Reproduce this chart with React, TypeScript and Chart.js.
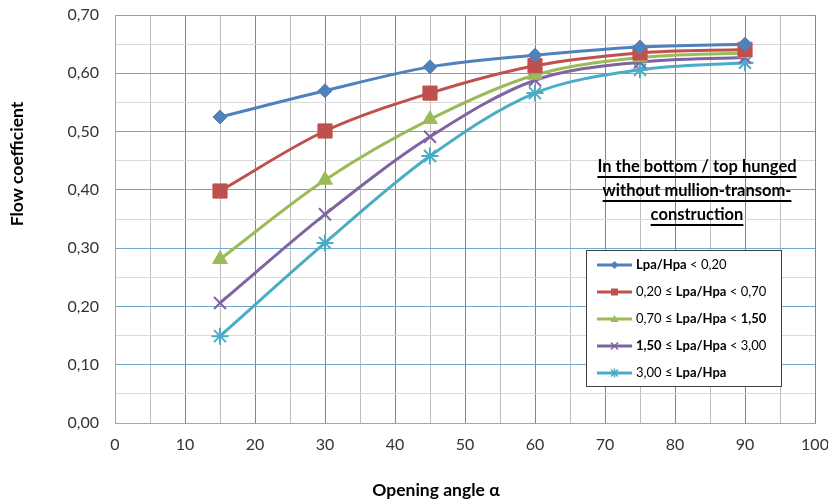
import React, { useEffect, useRef } from 'react';
import { Chart, registerables } from 'chart.js';

Chart.register(...registerables);

const angles = [15, 30, 45, 60, 75, 90];
const seriesA = [0.525, 0.57, 0.611, 0.631, 0.645, 0.65];
const seriesB = [0.398, 0.501, 0.566, 0.613, 0.635, 0.641];
const seriesC = [0.281, 0.417, 0.521, 0.597, 0.627, 0.635];
const seriesD = [0.206, 0.358, 0.491, 0.588, 0.619, 0.627];
const seriesE = [0.149, 0.309, 0.458, 0.566, 0.606, 0.618];

const seriesNames = [
  'Lpa/Hpa < 0,20',
  '0,20 ≤ Lpa/Hpa < 0,70',
  '0,70 ≤ Lpa/Hpa < 1,50',
  '1,50 ≤ Lpa/Hpa < 3,00',
  '3,00 ≤ Lpa/Hpa',
];
// legend text segments: [text, bold]
const legendRow1: [string, boolean][] = [['Lpa/Hpa', true], [' < 0,20', false]];
const legendRow2: [string, boolean][] = [['0,20 ≤ ', false], ['Lpa/Hpa', true], [' < 0,70', false]];
const legendRow3: [string, boolean][] = [['0,70 ≤ ', false], ['Lpa/Hpa', true], [' < ', false], ['1,50', true]];
const legendRow4: [string, boolean][] = [['1,50', true], [' ≤ ', false], ['Lpa/Hpa', true], [' < 3,00', false]];
const legendRow5: [string, boolean][] = [['3,00 ≤ ', false], ['Lpa/Hpa', true]];
const legendRows = [legendRow1, legendRow2, legendRow3, legendRow4, legendRow5];

const annotationLines = ['In the bottom / top hunged', 'without mullion-transom-', 'construction'];
const xTitle = 'Opening angle α';
const yTitle = 'Flow coefficient';

const colors = ['#4f81bd', '#c0504d', '#9bbb59', '#8064a2', '#4bacc6'];
const markers = ['rectRot', 'rect', 'triangle', 'crossRot', 'star'];
const markerRadius = [7, 10, 8.5, 8.5, 8.5];

const FONT = 'Lato, "Open Sans", sans-serif';
const X_MAJOR = '#5d8db8';
const X_MINOR = '#bdbdbd';
const Y_MAJOR = '#70a8cf';
const Y_MINOR = '#d9d9d9';
const AXIS = '#a6a6a6';

function drawSmallMarker(ctx: CanvasRenderingContext2D, kind: string, x: number, y: number, color: string) {
  ctx.save();
  ctx.fillStyle = color;
  ctx.strokeStyle = color;
  ctx.lineWidth = 1.5;
  ctx.beginPath();
  if (kind === 'rectRot') {
    const r = 4;
    ctx.moveTo(x, y - r); ctx.lineTo(x + r, y); ctx.lineTo(x, y + r); ctx.lineTo(x - r, y); ctx.closePath(); ctx.fill();
  } else if (kind === 'rect') {
    const r = 3.5;
    ctx.rect(x - r, y - r, 2 * r, 2 * r); ctx.fill();
  } else if (kind === 'triangle') {
    const r = 4;
    ctx.moveTo(x, y - r); ctx.lineTo(x + r, y + r * 0.75); ctx.lineTo(x - r, y + r * 0.75); ctx.closePath(); ctx.fill();
  } else if (kind === 'crossRot') {
    const r = 3.5;
    ctx.moveTo(x - r, y - r); ctx.lineTo(x + r, y + r); ctx.moveTo(x + r, y - r); ctx.lineTo(x - r, y + r); ctx.stroke();
  } else {
    const r = 3.5;
    ctx.moveTo(x - r, y - r); ctx.lineTo(x + r, y + r); ctx.moveTo(x + r, y - r); ctx.lineTo(x - r, y + r);
    ctx.moveTo(x, y - r * 1.3); ctx.lineTo(x, y + r * 1.3); ctx.stroke();
  }
  ctx.restore();
}

const overlayPlugin = {
  id: 'overlay',
  afterDatasetsDraw(chart: any) {
    const ctx: CanvasRenderingContext2D = chart.ctx;
    ctx.save();
    // annotation
    ctx.fillStyle = '#000';
    ctx.strokeStyle = '#000';
    ctx.font = `bold 16.5px ${FONT}`;
    ctx.textAlign = 'center';
    ctx.textBaseline = 'middle';
    const ax = 697;
    annotationLines.forEach((t, i) => {
      const y = 167 + i * 24;
      ctx.fillText(t, ax, y);
      const w = ctx.measureText(t).width;
      ctx.lineWidth = 1.8;
      ctx.beginPath();
      ctx.moveTo(ax - w / 2, y + 10);
      ctx.lineTo(ax + w / 2, y + 10);
      ctx.stroke();
    });
    // legend box
    ctx.fillStyle = '#fff';
    ctx.fillRect(586, 250, 195, 136);
    ctx.strokeStyle = '#404040';
    ctx.lineWidth = 1;
    ctx.strokeRect(586.5, 250.5, 195, 136);
    legendRows.forEach((segs, i) => {
      const y = 265 + i * 27;
      ctx.strokeStyle = colors[i];
      ctx.lineWidth = 3;
      ctx.beginPath();
      ctx.moveTo(597, y);
      ctx.lineTo(632, y);
      ctx.stroke();
      drawSmallMarker(ctx, markers[i], 614.5, y, colors[i]);
      let x = 636;
      ctx.textAlign = 'left';
      ctx.textBaseline = 'middle';
      ctx.fillStyle = '#000';
      segs.forEach(([t, b]) => {
        ctx.font = `${b ? 'bold ' : ''}13px ${FONT}`;
        ctx.fillText(t, x, y);
        x += ctx.measureText(t).width;
      });
    });
    // axis titles
    ctx.fillStyle = '#000';
    ctx.font = `bold 17.5px ${FONT}`;
    ctx.textAlign = 'center';
    ctx.textBaseline = 'middle';
    ctx.fillText(xTitle, 436, 490);
    ctx.translate(17, 164);
    ctx.rotate(-Math.PI / 2);
    ctx.fillText(yTitle, 0, 0);
    ctx.restore();
  },
};

export default function App() {
  const ref = useRef<HTMLCanvasElement>(null);
  useEffect(() => {
    if (!ref.current) return;
    const all = [seriesA, seriesB, seriesC, seriesD, seriesE];
    const chart = new Chart(ref.current, {
      type: 'line',
      data: {
        datasets: all.map((s, i) => ({
          label: seriesNames[i],
          data: angles.map((a, j) => ({ x: a, y: s[j] })),
          borderColor: colors[i],
          backgroundColor: colors[i],
          borderWidth: 3,
          pointStyle: markers[i] as any,
          pointRadius: markerRadius[i],
          pointBorderWidth: i >= 3 ? 2 : 1,
          pointBorderColor: colors[i],
          pointBackgroundColor: colors[i],
          tension: 0.33,
          fill: false,
        })),
      },
      options: {
        animation: false,
        responsive: true,
        maintainAspectRatio: false,
        layout: { padding: { left: 0, right: 13, top: 15, bottom: 0 } },
        plugins: { legend: { display: false }, tooltip: { enabled: false } },
        scales: {
          x: {
            type: 'linear',
            min: 0,
            max: 100,
            afterFit: (s: any) => { s.height = 79; s.paddingLeft = 0; s.paddingRight = 0; },
            ticks: {
              stepSize: 5,
              autoSkip: false,
              maxRotation: 0,
              padding: 12,
              color: '#333',
              font: { family: FONT, size: 16 },
              callback: (v: any) => (Math.round(v) % 10 === 0 ? String(v) : ''),
            },
            grid: {
              drawTicks: false,
              color: (c: any) => {
                const v = Math.round(c.tick.value);
                if (v === 0) return AXIS;
                return v % 10 === 0 ? X_MAJOR : X_MINOR;
              },
            },
            border: { color: AXIS },
          },
          y: {
            min: 0,
            max: 0.7,
            afterFit: (s: any) => { s.width = 115; s.paddingTop = 0; s.paddingBottom = 0; },
            ticks: {
              stepSize: 0.05,
              autoSkip: false,
              padding: 16,
              color: '#333',
              font: { family: FONT, size: 16 },
              callback: (v: any) => {
                const h = Math.round(v * 100);
                return h % 10 === 0 ? (h / 100).toFixed(2).replace('.', ',') : '';
              },
            },
            grid: {
              drawTicks: false,
              color: (c: any) => {
                const h = Math.round(c.tick.value * 100);
                if (h === 0) return AXIS;
                return h % 10 === 0 ? Y_MAJOR : Y_MINOR;
              },
            },
            border: { color: AXIS },
          },
        },
      },
      plugins: [overlayPlugin],
    });
    return () => chart.destroy();
  }, []);
  return (
    <div style={{ position: 'fixed', left: 0, top: 0, width: 828, height: 502, background: '#fff' }}>
      <canvas ref={ref} />
    </div>
  );
}
